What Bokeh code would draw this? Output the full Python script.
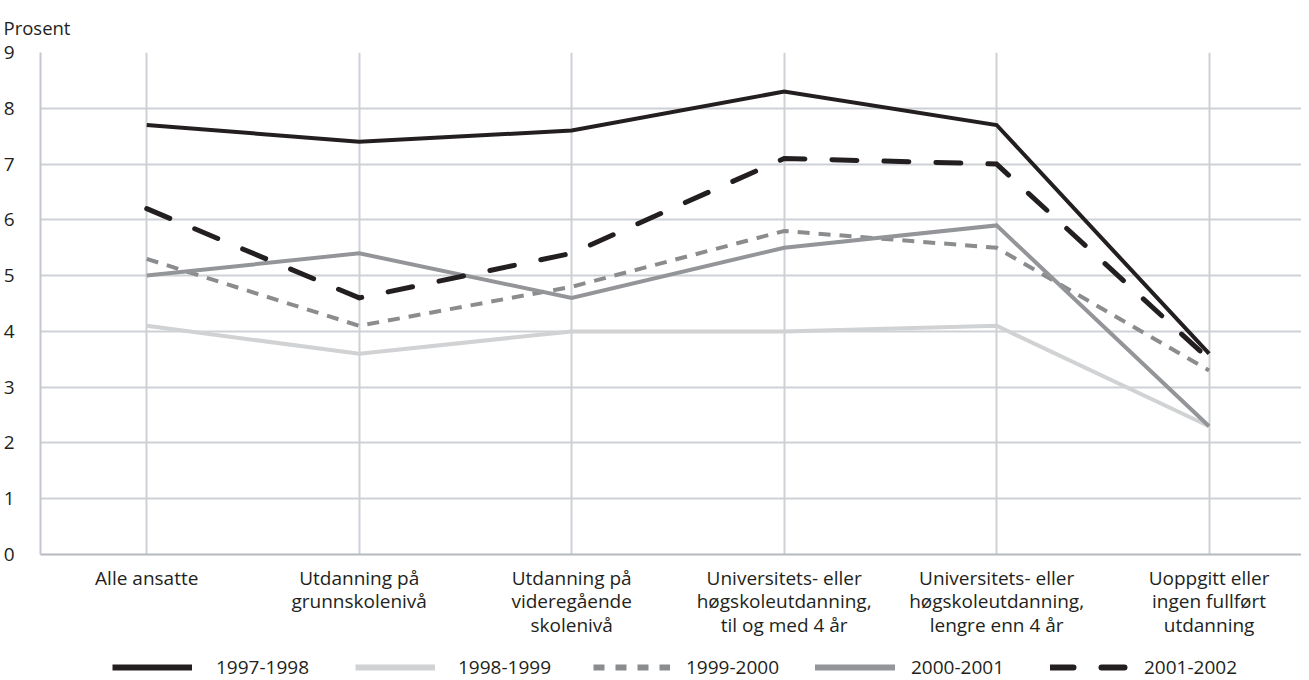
from bokeh.plotting import figure
from bokeh.layouts import column
from bokeh.models import FixedTicker, Legend, LegendItem, Range1d
from bokeh.embed import file_html
from bokeh.resources import INLINE

categories = ["Alle ansatte", "Utdanning på\ngrunnskolenivå", "Utdanning på\nvideregående\nskolenivå",
              "Universitets- eller\nhøgskoleutdanning,\ntil og med 4 år",
              "Universitets- eller\nhøgskoleutdanning,\nlengre enn 4 år",
              "Uoppgitt eller\ningen fullført\nutdanning"]
series_names = ["1997-1998", "1998-1999", "1999-2000", "2000-2001", "2001-2002"]
v1997 = [7.7, 7.4, 7.6, 8.3, 7.7, 3.6]
v1998 = [4.1, 3.6, 4.0, 4.0, 4.1, 2.3]
v1999 = [5.3, 4.1, 4.8, 5.8, 5.5, 3.3]
v2000 = [5.0, 5.4, 4.6, 5.5, 5.9, 2.3]
v2001 = [6.2, 4.6, 5.4, 7.1, 7.0, 3.5]
y_ticks = [0, 1, 2, 3, 4, 5, 6, 7, 8, 9]

FONT = "Open Sans"
TXT = "#231f20"
GRID = "#cdd1d6"

xs = list(range(len(categories)))

p = figure(width=1301, height=645, output_backend="svg", toolbar_location=None,
           x_range=Range1d(-0.5, 5.435), y_range=Range1d(0, 9),
           min_border_left=34, min_border_right=0, min_border_top=51, min_border_bottom=91)
p.outline_line_color = None
p.background_fill_color = "white"

p.title.text = "Prosent"
p.title.align = "left"
p.title.offset = -37
p.title.text_font = FONT
p.title.text_font_size = "18.5px"
p.title.text_font_style = "normal"
p.title.text_color = TXT
p.title.standoff = 25

# grids
p.xgrid.ticker = FixedTicker(ticks=xs)
p.ygrid.ticker = FixedTicker(ticks=y_ticks)
for g in (p.xgrid, p.ygrid):
    g.grid_line_color = GRID
    g.grid_line_width = 2

p.xaxis.ticker = FixedTicker(ticks=xs)
p.xaxis.major_label_overrides = {i: c for i, c in enumerate(categories)}
p.yaxis.ticker = FixedTicker(ticks=y_ticks)
for ax in (p.xaxis, p.yaxis):
    ax.major_tick_line_color = None
    ax.minor_tick_line_color = None
    ax.major_label_text_font = FONT
    ax.major_label_text_color = TXT
ax_x = p.xaxis[0]
ax_x.axis_line_color = "#b5b9bf"
ax_x.axis_line_width = 2
ax_x.major_label_text_font_size = "19px"
ax_x.major_label_text_line_height = 0.92
ax_x.major_label_standoff = 4
ax_y = p.yaxis[0]
ax_y.axis_line_color = "#c4c8ce"
ax_y.axis_line_width = 2
ax_y.major_label_text_font_size = "19px"
ax_y.major_label_standoff = 20

styles = [
    dict(color="#231f20", dash="solid", cap="butt", lw=4),
    dict(color="#d1d2d4", dash="solid", cap="butt", lw=4),
    dict(color="#8a8c8e", dash="12 9", cap="butt", lw=4),
    dict(color="#939598", dash="solid", cap="butt", lw=4),
    dict(color="#231f20", dash="25 27", cap="round", lw=5),
]
legend_styles = [
    dict(dash="solid", cap="butt", lw=6, gw=80, standoff=24, x=72),
    dict(dash="solid", cap="butt", lw=6, gw=80, standoff=23, x=315),
    dict(dash="11 11", cap="butt", lw=6, gw=77, standoff=16, x=553),
    dict(dash="solid", cap="round", lw=6, gw=80, standoff=16, x=775),
    dict(dash="23 28", cap="round", lw=6, gw=80, standoff=14, x=1010),
]
all_vals = [v1997, v1998, v1999, v2000, v2001]

# legend strip below the chart
lf = figure(width=1301, height=35, output_backend="svg", toolbar_location=None,
            x_range=Range1d(0, 1), y_range=Range1d(0, 1),
            x_axis_location=None, y_axis_location=None,
            min_border=0, min_border_left=0, min_border_right=0, min_border_top=0, min_border_bottom=0)
lf.grid.visible = False
lf.outline_line_color = None

for name, vals, st, ls in zip(series_names, all_vals, styles, legend_styles):
    p.line(xs, vals, line_color=st["color"], line_width=st["lw"], line_dash=st["dash"],
           line_cap=st["cap"], line_join="miter")
    dummy = lf.line([float("nan")], [float("nan")], line_color=st["color"], line_width=ls["lw"],
                    line_dash=ls["dash"], line_cap=ls["cap"])
    lg = Legend(items=[LegendItem(label=name, renderers=[dummy])], location=(ls["x"], 0),
                orientation="horizontal", glyph_width=ls["gw"], glyph_height=10, label_height=10,
                label_standoff=ls["standoff"], label_text_font=FONT, label_text_font_size="19px",
                label_text_color=TXT, border_line_color=None, background_fill_alpha=0,
                padding=0, margin=0, spacing=0)
    lf.add_layout(lg, "center")

layout = column(p, lf, spacing=0)
open("out.html", "w").write(file_html(layout, INLINE))
